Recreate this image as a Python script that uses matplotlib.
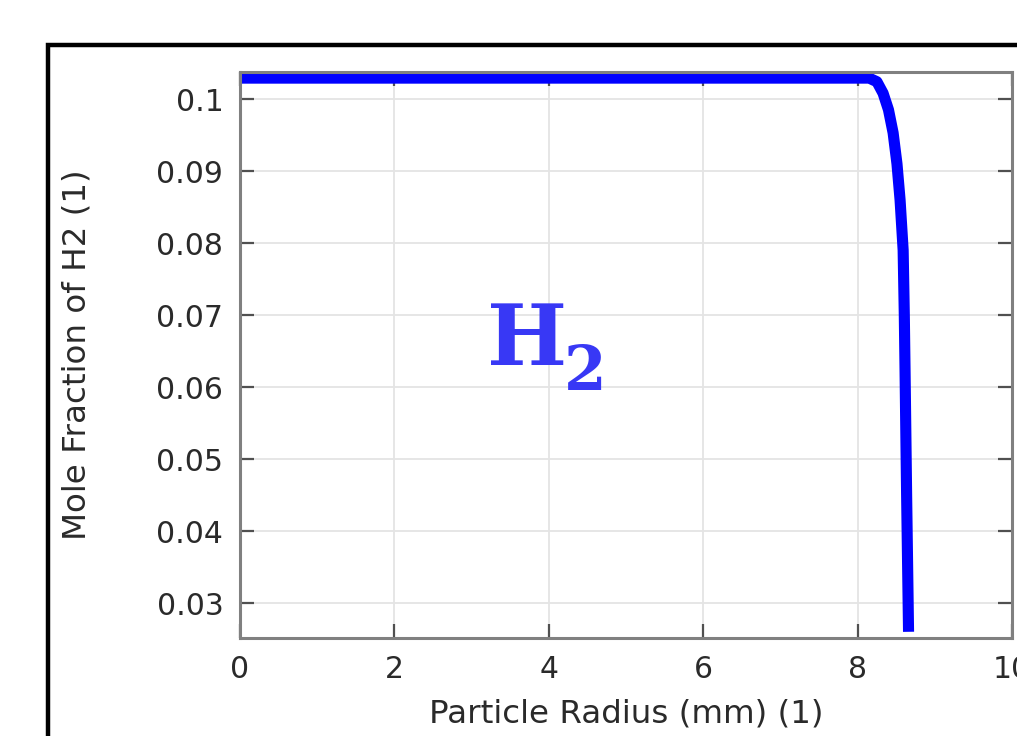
import matplotlib.pyplot as plt
from matplotlib.patches import Rectangle

# radius (mm) and H2 mole fraction
radius = [0.0, 8.0, 8.15, 8.25, 8.33, 8.40, 8.46, 8.51, 8.55, 8.59, 8.605,
          8.615, 8.635, 8.66]
h2_frac = [0.1029, 0.1029, 0.1029, 0.1024, 0.1008, 0.0985, 0.0953, 0.0910,
           0.0860, 0.0790, 0.0700, 0.0620, 0.0450, 0.0260]

x_ticks = [0, 2, 4, 6, 8, 10]
y_ticks = [0.03, 0.04, 0.05, 0.06, 0.07, 0.08, 0.09, 0.1]
y_tick_labels = ["0.03", "0.04", "0.05", "0.06", "0.07", "0.08", "0.09", "0.1"]

W, H = 1017, 736
fig = plt.figure(figsize=(W / 100, H / 100), dpi=100)

# black frame around the plot, running off the right and bottom edges
fig.patches.append(Rectangle((48 / W, -0.1), 1.2, 1.1 - 45 / H,
                             transform=fig.transFigure, fill=False,
                             edgecolor="black", linewidth=3.2))

ax = fig.add_axes([240 / W, 1 - 638 / H, (1012 - 240) / W, (638 - 72) / H])
ax.plot(radius, h2_frac, color="#0000ff", linewidth=8, solid_capstyle="butt",
        solid_joinstyle="round")

ax.set_xlim(0, 10)
ax.set_ylim(0.02514, 0.10375)
ax.set_xticks(x_ticks)
ax.set_yticks(y_ticks)
ax.set_yticklabels(y_tick_labels)

ax.grid(True, color="#e4e4e4", linewidth=1.3)
ax.set_axisbelow(True)
for s in ax.spines.values():
    s.set_color("#808080")
    s.set_linewidth(2.2)
ax.tick_params(direction="in", length=10, width=1.6, color="#505050",
               top=True, right=True, labelsize=21.5, labelcolor="#2a2a2a")
ax.tick_params(axis="y", pad=12)
ax.tick_params(axis="x", pad=12)

ax.set_xlabel("Particle Radius (mm) (1)", fontsize=23.4, color="#2a2a2a", labelpad=11)
ax.set_ylabel("Mole Fraction of H2 (1)", fontsize=23.4, color="#2a2a2a", labelpad=46)

# H2 label, big bold serif with lowered subscript
fig.text(487 / W, 1 - 365 / H, "H", fontsize=61, fontfamily="DejaVu Serif",
         fontweight="bold", color="#3838f5", ha="left", va="baseline")
fig.text(564 / W, 1 - 390 / H, "2", fontsize=44, fontfamily="DejaVu Serif",
         fontweight="bold", color="#3838f5", ha="left", va="baseline")

fig.savefig("out.png", dpi=100)
